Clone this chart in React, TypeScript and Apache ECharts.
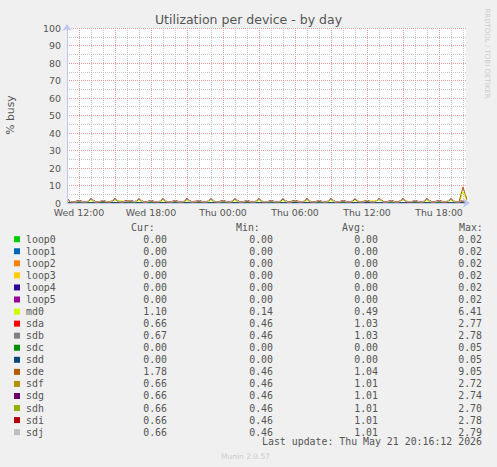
import { useEffect, useRef } from "react";
import * as echarts from "echarts";

// time axis in hours counted from Wed 00:00, one sample every 20 minutes
const startHour = 11;
const endHour = 44.25;
const stepHours = 1 / 3;

const xTickHours = [12, 18, 24, 30, 36, 42];
const xTickLabels = ["Wed 12:00", "Wed 18:00", "Thu 00:00", "Thu 06:00", "Thu 12:00", "Thu 18:00"];

const devices = ["loop0", "loop1", "loop2", "loop3", "loop4", "loop5", "md0", "sda", "sdb", "sdc", "sdd", "sde", "sdf", "sdg", "sdh", "sdi", "sdj"];
const deviceColors = ["#00CC00", "#0066B3", "#FF8000", "#FFCC00", "#330099", "#990099", "#CCFF00", "#FF0000", "#808080", "#008F00", "#00487D", "#B35A00", "#B38F00", "#6B006B", "#8FB300", "#B30000", "#BEBEBE"];
const curValues = [0, 0, 0, 0, 0, 0, 1.1, 0.66, 0.67, 0, 0, 1.78, 0.66, 0.66, 0.66, 0.66, 0.66];
const minValues = [0, 0, 0, 0, 0, 0, 0.14, 0.46, 0.46, 0, 0, 0.46, 0.46, 0.46, 0.46, 0.46, 0.46];
const avgValues = [0, 0, 0, 0, 0, 0, 0.49, 1.03, 1.03, 0, 0, 1.04, 1.01, 1.01, 1.01, 1.01, 1.01];
const maxValues = [0.02, 0.02, 0.02, 0.02, 0.02, 0.02, 6.41, 2.77, 2.78, 0.05, 0.05, 9.05, 2.72, 2.74, 2.7, 2.78, 2.79];

const loop0 = [
  0, 0, 0, 0, 0, 0, 0, 0, 0, 0, 0, 0, 0, 0, 0, 0, 0, 0, 0, 0,
  0, 0, 0, 0, 0, 0, 0, 0, 0, 0, 0, 0, 0, 0, 0, 0, 0, 0, 0, 0,
  0, 0, 0, 0, 0, 0, 0, 0, 0, 0, 0, 0, 0, 0, 0, 0, 0, 0, 0, 0,
  0, 0, 0, 0, 0, 0, 0, 0, 0, 0, 0, 0, 0, 0, 0, 0, 0, 0, 0, 0,
  0, 0, 0, 0, 0, 0, 0, 0, 0, 0, 0, 0, 0, 0, 0, 0, 0, 0, 0, 0, 0,
];
const loop1 = [
  0, 0, 0, 0, 0, 0, 0, 0, 0, 0, 0, 0, 0, 0, 0, 0, 0, 0, 0, 0,
  0, 0, 0, 0, 0, 0, 0, 0, 0, 0, 0, 0, 0, 0, 0, 0, 0, 0, 0, 0,
  0, 0, 0, 0, 0, 0, 0, 0, 0, 0, 0, 0, 0, 0, 0, 0, 0, 0, 0, 0,
  0, 0, 0, 0, 0, 0, 0, 0, 0, 0, 0, 0, 0, 0, 0, 0, 0, 0, 0, 0,
  0, 0, 0, 0, 0, 0, 0, 0, 0, 0, 0, 0, 0, 0, 0, 0, 0, 0, 0, 0, 0,
];
const loop2 = [
  0, 0, 0, 0, 0, 0, 0, 0, 0, 0, 0, 0, 0, 0, 0, 0, 0, 0, 0, 0,
  0, 0, 0, 0, 0, 0, 0, 0, 0, 0, 0, 0, 0, 0, 0, 0, 0, 0, 0, 0,
  0, 0, 0, 0, 0, 0, 0, 0, 0, 0, 0, 0, 0, 0, 0, 0, 0, 0, 0, 0,
  0, 0, 0, 0, 0, 0, 0, 0, 0, 0, 0, 0, 0, 0, 0, 0, 0, 0, 0, 0,
  0, 0, 0, 0, 0, 0, 0, 0, 0, 0, 0, 0, 0, 0, 0, 0, 0, 0, 0, 0, 0,
];
const loop3 = [
  0, 0, 0, 0, 0, 0, 0, 0, 0, 0, 0, 0, 0, 0, 0, 0, 0, 0, 0, 0,
  0, 0, 0, 0, 0, 0, 0, 0, 0, 0, 0, 0, 0, 0, 0, 0, 0, 0, 0, 0,
  0, 0, 0, 0, 0, 0, 0, 0, 0, 0, 0, 0, 0, 0, 0, 0, 0, 0, 0, 0,
  0, 0, 0, 0, 0, 0, 0, 0, 0, 0, 0, 0, 0, 0, 0, 0, 0, 0, 0, 0,
  0, 0, 0, 0, 0, 0, 0, 0, 0, 0, 0, 0, 0, 0, 0, 0, 0, 0, 0, 0, 0,
];
const loop4 = [
  0, 0, 0, 0, 0, 0, 0, 0, 0, 0, 0, 0, 0, 0, 0, 0, 0, 0, 0, 0,
  0, 0, 0, 0, 0, 0, 0, 0, 0, 0, 0, 0, 0, 0, 0, 0, 0, 0, 0, 0,
  0, 0, 0, 0, 0, 0, 0, 0, 0, 0, 0, 0, 0, 0, 0, 0, 0, 0, 0, 0,
  0, 0, 0, 0, 0, 0, 0, 0, 0, 0, 0, 0, 0, 0, 0, 0, 0, 0, 0, 0,
  0, 0, 0, 0, 0, 0, 0, 0, 0, 0, 0, 0, 0, 0, 0, 0, 0, 0, 0, 0, 0,
];
const loop5 = [
  0, 0, 0, 0, 0, 0, 0, 0, 0, 0, 0, 0, 0, 0, 0, 0, 0, 0, 0, 0,
  0, 0, 0, 0, 0, 0, 0, 0, 0, 0, 0, 0, 0, 0, 0, 0, 0, 0, 0, 0,
  0, 0, 0, 0, 0, 0, 0, 0, 0, 0, 0, 0, 0, 0, 0, 0, 0, 0, 0, 0,
  0, 0, 0, 0, 0, 0, 0, 0, 0, 0, 0, 0, 0, 0, 0, 0, 0, 0, 0, 0,
  0, 0, 0, 0, 0, 0, 0, 0, 0, 0, 0, 0, 0, 0, 0, 0, 0, 0, 0, 0, 0,
];
const md0 = [
  0.9, 0.3, 0.2, 0.5, 0.3, 0.2,
  1.6, 0.3, 0.2, 0.6, 0.3, 1.2,
  1.5, 1.3, 1.2, 0.5, 0.3, 0.2,
  1.6, 0.3, 0.2, 0.5, 0.2, 0.3,
  1.5, 0.3, 0.2, 0.6, 0.3, 0.2,
  1.6, 0.2, 0.3, 0.5, 0.3, 0.2,
  1.7, 0.3, 0.2, 0.5, 0.2, 0.3,
  1.5, 0.3, 0.2, 0.6, 0.3, 0.2,
  1.6, 0.2, 0.3, 0.5, 0.3, 0.2,
  1.5, 0.3, 1.2, 1.3, 1.1, 0.3,
  1.6, 0.3, 0.2, 0.5, 0.3, 0.2,
  1.5, 0.2, 0.3, 0.6, 0.2, 0.3,
  1.6, 0.3, 1.1, 1.3, 1.2, 1.3,
  1.5, 1.2, 0.3, 0.5, 0.3, 1.1,
  1.6, 1.2, 0.3, 0.5, 0.2, 0.3,
  1.5, 0.3, 0.2, 0.6, 0.3, 1.2,
  1.5, 0.3, 0.2, 6.41, 1.1,
];
const sda = [
  2.0, 0.7, 0.6, 1.3, 0.7, 0.6,
  2.5, 0.7, 0.6, 1.4, 0.6, 0.7,
  2.6, 0.6, 0.7, 1.3, 1.2, 0.6,
  2.6, 0.7, 0.6, 1.4, 0.6, 0.6,
  2.5, 0.6, 0.7, 1.2, 0.7, 0.6,
  2.6, 0.7, 1.0, 1.3, 0.7, 0.6,
  2.8, 0.6, 0.7, 1.4, 0.6, 0.6,
  2.5, 0.7, 0.6, 1.3, 0.7, 0.7,
  2.6, 0.6, 0.7, 1.3, 0.6, 0.6,
  2.6, 0.7, 0.6, 1.4, 0.7, 0.6,
  2.6, 0.6, 0.7, 1.3, 0.6, 0.7,
  2.5, 0.7, 0.6, 1.4, 0.7, 0.6,
  2.6, 0.6, 0.6, 1.3, 0.6, 0.6,
  2.7, 0.7, 0.7, 1.4, 0.7, 0.7,
  2.6, 0.6, 0.6, 1.3, 0.6, 0.6,
  2.5, 0.7, 0.6, 1.4, 0.7, 0.6,
  2.6, 0.6, 0.7, 1.4, 0.66,
];
const sdb = [
  2.1, 0.7, 0.7, 1.4, 0.7, 0.6,
  2.6, 0.7, 0.6, 1.4, 0.6, 0.7,
  2.6, 0.7, 0.7, 1.3, 1.3, 0.6,
  2.7, 0.6, 0.7, 1.4, 0.7, 0.7,
  2.6, 0.7, 0.6, 1.4, 0.7, 0.6,
  2.6, 0.7, 0.7, 1.3, 0.7, 0.7,
  2.7, 0.7, 0.6, 1.4, 0.7, 0.6,
  2.6, 0.7, 0.7, 1.4, 0.6, 0.7,
  2.7, 0.7, 0.6, 1.3, 0.7, 0.6,
  2.6, 0.7, 0.7, 1.4, 0.7, 0.7,
  2.6, 0.7, 0.6, 1.4, 0.6, 0.6,
  2.7, 0.6, 0.7, 1.3, 0.7, 0.7,
  2.6, 0.7, 0.6, 1.4, 0.7, 0.6,
  2.8, 0.7, 0.7, 1.4, 0.6, 0.7,
  2.6, 0.7, 0.6, 1.3, 0.7, 0.6,
  2.6, 0.6, 0.7, 1.4, 0.7, 0.7,
  2.7, 0.7, 0.6, 1.4, 0.67,
];
const sdc = [
  0, 0, 0, 0, 0, 0, 0, 0, 0, 0, 0, 0, 0, 0, 0, 0, 0, 0, 0, 0,
  0, 0, 0, 0, 0, 0, 0, 0, 0, 0, 0, 0, 0, 0, 0, 0, 0, 0, 0, 0,
  0, 0, 0, 0, 0, 0, 0, 0, 0, 0, 0, 0, 0, 0, 0, 0, 0, 0, 0, 0,
  0, 0, 0, 0, 0, 0, 0, 0, 0, 0, 0, 0, 0, 0, 0, 0, 0, 0, 0, 0,
  0, 0, 0, 0, 0, 0, 0, 0, 0, 0, 0, 0, 0, 0, 0, 0, 0, 0, 0, 0, 0,
];
const sdd = [
  0, 0, 0, 0, 0, 0, 0, 0, 0, 0, 0, 0, 0, 0, 0, 0, 0, 0, 0, 0,
  0, 0, 0, 0, 0, 0, 0, 0, 0, 0, 0, 0, 0, 0, 0, 0, 0, 0, 0, 0,
  0, 0, 0, 0, 0, 0, 0, 0, 0, 0, 0, 0, 0, 0, 0, 0, 0, 0, 0, 0,
  0, 0, 0, 0, 0, 0, 0, 0, 0, 0, 0, 0, 0, 0, 0, 0, 0, 0, 0, 0,
  0, 0, 0, 0, 0, 0, 0, 0, 0, 0, 0, 0, 0, 0, 0, 0, 0, 0, 0, 0, 0,
];
const sde = [
  2.2, 0.6, 0.7, 1.3, 0.6, 0.7,
  2.7, 0.7, 0.6, 1.4, 0.7, 0.6,
  2.6, 0.6, 0.6, 1.3, 1.2, 0.6,
  2.7, 0.7, 0.7, 1.3, 0.6, 0.7,
  2.6, 0.6, 0.6, 1.4, 0.7, 0.6,
  2.7, 0.7, 0.6, 1.3, 0.6, 0.6,
  2.6, 0.6, 0.7, 1.3, 0.7, 0.7,
  2.7, 0.7, 0.6, 1.4, 0.6, 0.6,
  2.7, 0.6, 0.6, 1.3, 0.7, 0.6,
  2.6, 0.7, 0.7, 1.4, 0.6, 0.7,
  2.7, 0.6, 0.6, 1.3, 0.7, 0.6,
  2.6, 0.7, 0.6, 1.3, 0.6, 0.6,
  2.7, 0.6, 0.7, 1.4, 0.7, 0.7,
  2.6, 0.7, 0.6, 1.3, 0.6, 0.6,
  2.7, 0.6, 0.6, 1.4, 0.7, 0.6,
  2.6, 0.7, 0.7, 1.3, 0.6, 0.7,
  2.7, 0.6, 0.6, 9.05, 1.78,
];
const sdf = [
  2.2, 0.7, 0.6, 1.4, 0.7, 0.6,
  2.6, 0.6, 0.7, 1.3, 0.6, 0.7,
  2.7, 0.7, 0.6, 1.3, 1.3, 0.6,
  2.6, 0.6, 0.6, 1.4, 0.7, 0.6,
  2.6, 0.7, 0.7, 1.3, 0.6, 0.7,
  2.7, 0.6, 0.6, 1.3, 0.7, 0.6,
  2.6, 0.7, 0.6, 1.4, 0.6, 0.6,
  2.7, 0.6, 0.7, 1.3, 0.7, 0.7,
  2.6, 0.7, 0.6, 1.4, 0.6, 0.6,
  2.6, 0.6, 0.6, 1.3, 0.7, 0.6,
  2.7, 0.7, 0.7, 1.4, 0.6, 0.7,
  2.6, 0.6, 0.6, 1.3, 0.7, 0.6,
  2.6, 0.7, 0.6, 1.3, 0.6, 0.6,
  2.7, 0.6, 0.7, 1.4, 0.7, 0.7,
  2.6, 0.7, 0.6, 1.3, 0.6, 0.6,
  2.7, 0.6, 0.6, 1.4, 0.7, 0.6,
  2.6, 0.7, 0.7, 1.4, 0.66,
];
const sdg = [
  2.1, 0.6, 0.7, 1.3, 0.6, 0.6,
  2.6, 0.7, 0.6, 1.3, 0.7, 0.6,
  2.5, 0.6, 0.6, 1.4, 1.3, 0.7,
  2.6, 0.7, 0.7, 1.3, 0.6, 0.6,
  2.7, 0.6, 0.6, 1.4, 0.7, 0.6,
  2.6, 0.7, 0.6, 1.3, 0.6, 0.7,
  2.6, 0.6, 0.7, 1.3, 0.7, 0.6,
  2.7, 0.7, 0.6, 1.4, 0.6, 0.6,
  2.6, 0.6, 0.6, 1.3, 0.7, 0.7,
  2.5, 0.7, 0.7, 1.4, 0.6, 0.6,
  2.6, 0.6, 0.6, 1.3, 0.7, 0.6,
  2.7, 0.7, 0.6, 1.3, 0.6, 0.7,
  2.6, 0.6, 0.7, 1.4, 0.7, 0.6,
  2.7, 0.7, 0.6, 1.3, 0.6, 0.6,
  2.6, 0.6, 0.6, 1.4, 0.7, 0.7,
  2.6, 0.7, 0.7, 1.3, 0.6, 0.6,
  2.7, 0.6, 0.6, 1.4, 0.66,
];
const sdh = [
  2.0, 0.7, 0.6, 1.2, 0.7, 0.6,
  2.5, 0.6, 0.6, 1.3, 0.6, 0.7,
  2.6, 0.7, 0.6, 1.2, 1.2, 0.6,
  2.5, 0.6, 0.7, 1.3, 0.7, 0.6,
  2.6, 0.7, 0.6, 1.3, 0.6, 0.7,
  2.6, 0.6, 0.6, 1.4, 0.7, 0.6,
  2.7, 0.7, 0.7, 1.2, 0.6, 0.6,
  2.6, 0.6, 0.6, 1.3, 0.7, 0.7,
  2.5, 0.7, 0.6, 1.4, 0.6, 0.6,
  2.6, 0.6, 0.7, 1.3, 0.7, 0.6,
  2.7, 0.7, 0.6, 1.3, 0.6, 0.6,
  2.5, 0.6, 0.6, 1.4, 0.7, 0.7,
  2.6, 0.7, 0.7, 1.3, 0.6, 0.6,
  2.6, 0.6, 0.6, 1.2, 0.7, 0.6,
  2.7, 0.7, 0.6, 1.3, 0.6, 0.7,
  2.5, 0.6, 0.7, 1.4, 0.7, 0.6,
  2.6, 0.7, 0.6, 1.3, 0.66,
];
const sdi = [
  2.2, 0.6, 0.7, 1.4, 0.7, 0.6,
  2.7, 0.7, 0.6, 1.3, 0.6, 0.6,
  2.6, 0.6, 0.7, 1.3, 1.2, 0.7,
  2.6, 0.7, 0.6, 1.5, 0.6, 0.6,
  2.7, 0.6, 0.7, 1.2, 0.7, 0.6,
  2.6, 0.7, 0.6, 1.3, 0.7, 0.6,
  2.7, 0.6, 0.7, 1.4, 0.6, 0.7,
  2.5, 0.7, 0.6, 1.3, 0.7, 0.6,
  2.7, 0.6, 0.6, 1.3, 0.6, 0.6,
  2.6, 0.7, 0.7, 1.4, 0.7, 0.6,
  2.6, 0.6, 0.6, 1.3, 0.6, 0.7,
  2.7, 0.7, 0.6, 1.4, 0.7, 0.6,
  2.6, 0.6, 0.7, 1.3, 0.6, 0.6,
  2.8, 0.7, 0.6, 1.4, 0.7, 0.7,
  2.6, 0.6, 0.6, 1.3, 0.6, 0.6,
  2.7, 0.7, 0.7, 1.4, 0.7, 0.6,
  2.6, 0.6, 0.7, 1.4, 0.66,
];
const sdj = [
  2.1, 0.7, 0.6, 1.3, 0.6, 0.7,
  2.6, 0.6, 0.7, 1.4, 0.7, 0.6,
  2.5, 0.7, 0.6, 1.2, 1.3, 0.6,
  2.7, 0.6, 0.6, 1.4, 0.7, 0.7,
  2.6, 0.7, 0.6, 1.3, 0.6, 0.6,
  2.5, 0.6, 0.7, 1.4, 0.6, 0.7,
  2.6, 0.7, 0.6, 1.3, 0.7, 0.6,
  2.6, 0.6, 0.6, 1.4, 0.6, 0.6,
  2.6, 0.7, 0.7, 1.2, 0.7, 0.6,
  2.7, 0.6, 0.6, 1.3, 0.6, 0.7,
  2.5, 0.7, 0.6, 1.4, 0.7, 0.6,
  2.6, 0.6, 0.7, 1.3, 0.6, 0.6,
  2.8, 0.7, 0.6, 1.4, 0.7, 0.7,
  2.6, 0.6, 0.6, 1.3, 0.6, 0.6,
  2.5, 0.7, 0.7, 1.4, 0.7, 0.6,
  2.6, 0.6, 0.6, 1.3, 0.6, 0.7,
  2.6, 0.7, 0.6, 1.5, 0.66,
];

const busyByDevice = [loop0, loop1, loop2, loop3, loop4, loop5, md0, sda, sdb, sdc, sdd, sde, sdf, sdg, sdh, sdi, sdj];

const textColor = "#555555";
const axisColor = "#c0c6f2";
const majorGrid = "#e49a9a";
const minorGrid = "#c4c4c4";
const mono = '"DejaVu Sans Mono", monospace';
const sans = '"DejaVu Sans", sans-serif';

function legendGraphics() {
  const rowY = (i: number) => 239.2 + i * 12.06;
  const items: any[] = [];
  const headers = [
    { text: "Cur:", x: 131 },
    { text: "Min:", x: 236 },
    { text: "Avg:", x: 342 },
    { text: "Max:", x: 459 },
  ];
  headers.forEach((h) =>
    items.push({
      type: "text",
      silent: true,
      style: { text: h.text, x: h.x, y: 227.7, fill: textColor, fontFamily: mono, fontSize: 9.9, textAlign: "left", textVerticalAlign: "middle" },
    })
  );
  const columns = [
    { values: curValues, right: 167 },
    { values: minValues, right: 273 },
    { values: avgValues, right: 378 },
    { values: maxValues, right: 482 },
  ];
  devices.forEach((name, i) => {
    const y = rowY(i);
    items.push({
      type: "rect",
      silent: true,
      shape: { x: 14, y: y - 3, width: 6, height: 6 },
      style: { fill: deviceColors[i] },
    });
    items.push({
      type: "text",
      silent: true,
      style: { text: name, x: 26, y, fill: textColor, fontFamily: mono, fontSize: 9.9, textAlign: "left", textVerticalAlign: "middle" },
    });
    columns.forEach((c) =>
      items.push({
        type: "text",
        silent: true,
        style: { text: c.values[i].toFixed(2), x: c.right, y, fill: textColor, fontFamily: mono, fontSize: 9.9, textAlign: "right", textVerticalAlign: "middle" },
      })
    );
  });
  items.push({
    type: "text",
    silent: true,
    style: { text: "Last update: Thu May 21 20:16:12 2026", x: 482, y: 441.7, fill: textColor, fontFamily: mono, fontSize: 9.9, textAlign: "right", textVerticalAlign: "middle" },
  });
  return items;
}

export default function App() {
  const containerRef = useRef<HTMLDivElement>(null);

  useEffect(() => {
    const container = containerRef.current;
    if (!container) return;
    const chart = echarts.init(container, undefined, { renderer: "svg" });

    const series = devices.map((name, i) => ({
      type: "line" as const,
      name,
      data: busyByDevice[i].map((v, k) => [startHour + k * stepHours, v]),
      showSymbol: false,
      symbol: "none",
      silent: true,
      clip: true,
      lineStyle: { width: 1, color: deviceColors[i] },
      itemStyle: { color: deviceColors[i] },
    }));

    const option: echarts.EChartsOption = {
      animation: false,
      backgroundColor: "#f0f0f0",
      grid: { left: 67, top: 28, width: 399, height: 175, show: true, backgroundColor: "#ffffff", borderWidth: 0 },
      xAxis: [
        {
          type: "value",
          min: startHour,
          max: endHour,
          interval: 1,
          axisLine: { show: false },
          axisTick: { show: false },
          splitLine: {
            show: true,
            showMaxLine: false,
            lineStyle: { color: [minorGrid, majorGrid, minorGrid], type: [1, 1], width: 1 },
          },
          axisLabel: {
            interval: 0,
            margin: 5,
            color: textColor,
            fontFamily: sans,
            fontSize: 9.4,
            formatter: (v: number) => {
              const idx = xTickHours.indexOf(Math.round(v * 100) / 100);
              return idx >= 0 ? xTickLabels[idx] : "";
            },
          },
        },
        {
          type: "value",
          min: startHour,
          max: endHour,
          position: "bottom",
          z: 5,
          axisLine: {
            show: true,
            symbol: ["none", "arrow"],
            symbolSize: [7, 7],
            symbolOffset: [0, 4],
            lineStyle: { color: axisColor, width: 1 },
          },
          axisTick: { show: false },
          axisLabel: { show: false },
          splitLine: { show: false },
        },
      ],
      yAxis: [
        {
          type: "value",
          min: 0,
          max: 100,
          interval: 5,
          z: 5,
          axisLine: {
            show: true,
            symbol: ["none", "arrow"],
            symbolSize: [7, 7],
            symbolOffset: [0, 4],
            lineStyle: { color: axisColor, width: 1 },
          },
          axisTick: { show: false },
          splitLine: {
            show: true,
            lineStyle: { color: [majorGrid, minorGrid], type: [1, 1], width: 1 },
          },
          axisLabel: {
            margin: 6,
            color: textColor,
            fontFamily: sans,
            fontSize: 9.4,
            formatter: (v: number) => (v % 10 === 0 ? String(v) : ""),
          },
        },
      ],
      series,
      graphic: [
        {
          type: "text",
          silent: true,
          style: { text: "Utilization per device - by day", x: 248.5, y: 19.5, fill: textColor, fontFamily: sans, fontSize: 12.5, textAlign: "center", textVerticalAlign: "middle" },
        },
        {
          type: "text",
          silent: true,
          x: 10.5,
          y: 115,
          rotation: Math.PI / 2,
          style: { text: "% busy", x: 0, y: 0, fill: textColor, fontFamily: sans, fontSize: 10.8, textAlign: "center", textVerticalAlign: "middle" },
        },
        {
          type: "text",
          silent: true,
          x: 487,
          y: 53.5,
          rotation: -Math.PI / 2,
          style: { text: "RRDTOOL / TOBI OETIKER", x: 0, y: 0, fill: "#cccccc", fontFamily: sans, fontSize: 7, textAlign: "center", textVerticalAlign: "middle" },
        },
        {
          type: "text",
          silent: true,
          style: { text: "Munin 2.0.57", x: 245.5, y: 456.5, fill: "#cccccc", fontFamily: sans, fontSize: 7.5, textAlign: "center", textVerticalAlign: "middle" },
        },
        ...legendGraphics(),
      ],
    };

    chart.setOption(option);

    return () => {
      chart.dispose();
    };
  }, []);

  return (
    <div
      ref={containerRef}
      style={{ position: "absolute", left: 0, top: 0, width: 497, height: 467 }}
    />
  );
}
